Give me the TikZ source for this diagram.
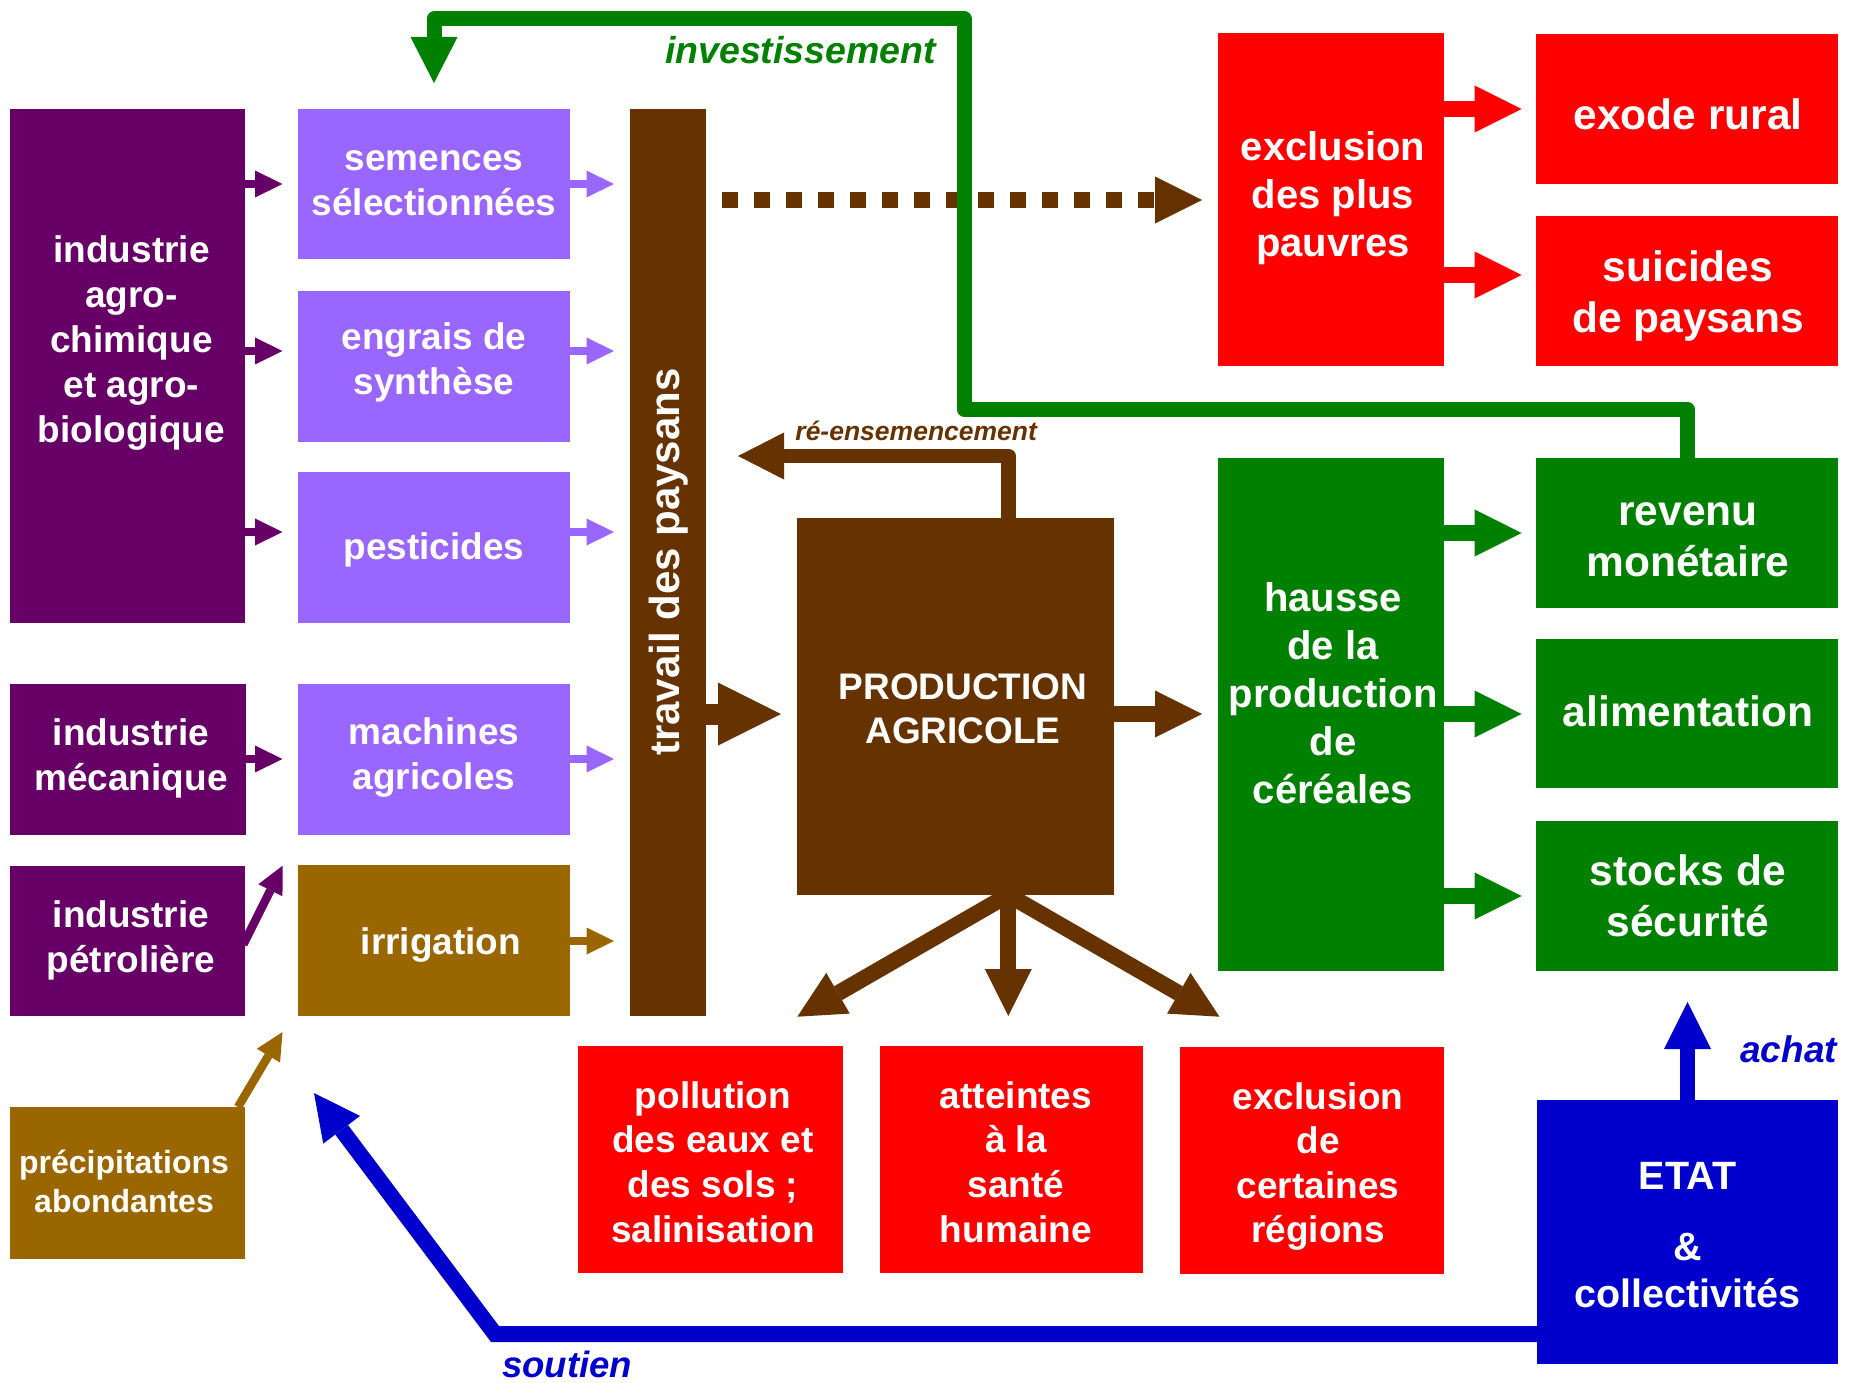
\documentclass[tikz,border=0pt]{standalone}
\usepackage{fontspec}
\setmainfont{Liberation Sans}
\usetikzlibrary{arrows.meta}
\definecolor{cDpur}{HTML}{660066}
\definecolor{cLpur}{HTML}{9966FF}
\definecolor{cBrown}{HTML}{663300}
\definecolor{cGold}{HTML}{996600}
\definecolor{cRed}{HTML}{FF0000}
\definecolor{cGreen}{HTML}{008000}
\definecolor{cBlue}{HTML}{0000CC}
\begin{document}
\begin{tikzpicture}[x=1pt,y=-1pt,
  box/.style={inner sep=0pt,outer sep=0pt,draw=none},
  txt/.style={text=white,align=center,inner sep=0pt,outer sep=0pt},
  fA/.style={font=\bfseries\fontsize{37}{45}\selectfont},
  fB/.style={font=\bfseries\fontsize{40}{48}\selectfont},
  fC/.style={font=\bfseries\fontsize{42.5}{51}\selectfont},
  lbl/.style={inner sep=0pt,outer sep=0pt,font=\bfseries\itshape\fontsize{37.5}{45}\selectfont},
  sarr/.style={line width=8.5pt,-{Triangle[length=27.5pt,width=27pt,line width=0pt]}},
  marr/.style={line width=16pt,-{Triangle[length=47pt,width=47pt,line width=0pt]}},
  larr/.style={line width=21pt,-{Triangle[length=63pt,width=63pt,line width=0pt]}},
]
\useasboundingbox (0,0) rectangle (1855,1383);

% ---------- boxes ----------
\node[box,fill=cDpur,minimum width=235pt,minimum height=514pt] (agro) at (127.5,366) {};
\node[box,fill=cDpur,minimum width=236pt,minimum height=151pt] (meca) at (128,759.5) {};
\node[box,fill=cDpur,minimum width=235pt,minimum height=150pt] (petro) at (127.5,941) {};
\node[box,fill=cGold,minimum width=235pt,minimum height=152pt] (prec) at (127.5,1183) {};

\node[box,fill=cLpur,minimum width=272pt,minimum height=150pt] (sem) at (434,184) {};
\node[box,fill=cLpur,minimum width=272pt,minimum height=151pt] (eng) at (434,366.5) {};
\node[box,fill=cLpur,minimum width=272pt,minimum height=151pt] (pest) at (434,547.5) {};
\node[box,fill=cLpur,minimum width=272pt,minimum height=151pt] (mach) at (434,759.5) {};
\node[box,fill=cGold,minimum width=272pt,minimum height=151pt] (irr) at (434,940.5) {};

\node[box,fill=cBrown,minimum width=76pt,minimum height=907pt] (trav) at (668,562.5) {};

\node[box,fill=cRed,minimum width=226pt,minimum height=333pt] (excl) at (1331,199.5) {};
\node[box,fill=cGreen,minimum width=226pt,minimum height=513pt] (haus) at (1331,714.5) {};

\node[box,fill=cRed,minimum width=302pt,minimum height=150pt] (exode) at (1687,109) {};
\node[box,fill=cRed,minimum width=302pt,minimum height=150pt] (suic) at (1687,291) {};
\node[box,fill=cGreen,minimum width=302pt,minimum height=150pt] (rev) at (1687,533) {};
\node[box,fill=cGreen,minimum width=302pt,minimum height=149pt] (alim) at (1687,713.5) {};
\node[box,fill=cGreen,minimum width=302pt,minimum height=150pt] (stock) at (1687,896) {};

\node[box,fill=cRed,minimum width=265pt,minimum height=227pt] (poll) at (710.5,1159.5) {};
\node[box,fill=cRed,minimum width=263pt,minimum height=227pt] (att) at (1011.5,1159.5) {};
\node[box,fill=cRed,minimum width=264pt,minimum height=227pt] (regs) at (1312,1160.5) {};

\node[box,fill=cBlue,minimum width=301pt,minimum height=264pt] (etat) at (1687.5,1232) {};

% ---------- coordinates ----------
\coordinate (petroTip) at (282.7,865.7);
\coordinate (precStart) at (238,1107);
\coordinate (precTip) at (282.5,1032);
\coordinate (fanO) at (1008.3,895);
\coordinate (fanL) at (797.3,1016.7);
\coordinate (fanD) at (1008.3,1016);
\coordinate (fanR) at (1219.5,1016.7);
\coordinate (soutC) at (495,1334);
\coordinate (soutTip) at (314,1093);
\coordinate (invA) at (964,409);
\coordinate (invB) at (964,19);
\coordinate (reA) at (1008.5,456);

% ---------- fan arrows (under production box) ----------
\draw[marr,cBrown,shorten <=-14pt] (fanO) -- (fanL);
\draw[marr,cBrown,shorten <=-14pt] (fanO) -- (fanD);
\draw[marr,cBrown,shorten <=-14pt] (fanO) -- (fanR);

\node[box,fill=cBrown,minimum width=317pt,minimum height=377pt] (prod) at (955.5,706.5) {};

% ---------- texts ----------
\node[txt,fA] (agroT) at (131.5,342.7) {industrie\\agro-\\chimique\\et agro-\\biologique};
\node[txt,fA] (mecaT) at (131,758.3) {industrie\\mécanique};
\node[txt,fA] (petroT) at (131,940.4) {industrie\\pétrolière};
\node[txt,font=\bfseries\fontsize{32}{39}\selectfont] (precT) at (124,1181) {précipitations\\abondantes};
\node[txt,fA] (semT) at (434,183.5) {semences\\sélectionnées};
\node[txt,fA] (engT) at (434,362) {engrais de\\synthèse};
\node[txt,fA] (pestT) at (434,550) {pesticides};
\node[txt,fA] (machT) at (434,757.1) {machines\\agricoles};
\node[txt,fA] (irrT) at (441,945) {irrigation};
\node[txt,rotate=90,font=\bfseries\fontsize{42}{50}\selectfont] (travT) at (669,562) {travail des paysans};
\node[txt,font=\bfseries\fontsize{37}{44}\selectfont] (prodT) at (963,709.2) {PRODUCTION\\AGRICOLE};
\node[txt,fB] (exclT) at (1333,198.5) {exclusion\\des plus\\pauvres};
\node[txt,fB] (hausT) at (1333,693.5) {hausse\\de la\\production\\de\\céréales};
\node[txt,fC] (exodeT) at (1688,114.7) {exode rural};
\node[txt,fC] (suicT) at (1688,296) {suicides\\de paysans};
\node[txt,fC] (revT) at (1688,539.5) {revenu\\monétaire};
\node[txt,fC] (alimT) at (1688,711) {alimentation};
\node[txt,fC] (stockT) at (1688,896) {stocks de\\sécurité};
\node[txt,font=\bfseries\fontsize{37}{44.6}\selectfont] (pollT) at (713,1162) {pollution\\des eaux et\\des sols ;\\salinisation};
\node[txt,font=\bfseries\fontsize{37}{44.6}\selectfont] (attT) at (1016,1162) {atteintes\\à la\\santé\\humaine};
\node[txt,font=\bfseries\fontsize{37}{44.6}\selectfont] (regsT) at (1318,1166.5) {exclusion\\de\\certaines\\régions};
\node[txt,font=\bfseries\fontsize{39.5}{47}\selectfont] (etatT) at (1687.5,1235) {ETAT\\[24pt]\&\\collectivités};

% ---------- small arrows ----------
\draw[sarr,cDpur,shorten >=15.5pt] (agro.east |- 0,184) -- (sem.west |- 0,184);
\draw[sarr,cDpur,shorten >=15.5pt] (agro.east |- 0,351) -- (eng.west |- 0,351);
\draw[sarr,cDpur,shorten >=15.5pt] (agro.east |- 0,532) -- (pest.west |- 0,532);
\draw[sarr,cDpur,shorten >=15.5pt] (meca.east |- 0,759) -- (mach.west |- 0,759);
\draw[sarr,cLpur,shorten >=16pt] (sem.east |- 0,184) -- (trav.west |- 0,184);
\draw[sarr,cLpur,shorten >=16pt] (eng.east |- 0,351) -- (trav.west |- 0,351);
\draw[sarr,cLpur,shorten >=16pt] (pest.east |- 0,532) -- (trav.west |- 0,532);
\draw[sarr,cLpur,shorten >=16pt] (mach.east |- 0,759) -- (trav.west |- 0,759);
\draw[sarr,cGold,shorten >=16pt] (irr.east |- 0,941) -- (trav.west |- 0,941);
\draw[sarr,cDpur,shorten <=-4pt] (petro.east) -- (petroTip);
\draw[sarr,cGold] (precStart) -- (precTip);

% ---------- medium / large arrows ----------
\draw[larr,cBrown,shorten >=16pt] (trav.east |- 0,714) -- (prod.west |- 0,714);
\draw[marr,cBrown,shorten >=16pt] (prod.east |- 0,714) -- (haus.west |- 0,714);
\draw[line width=16pt,cBrown,dash pattern=on 16pt off 16pt,dash phase=16pt,
      -{Triangle[length=47pt,width=47pt,line width=0pt]},shorten >=16pt]
      (trav.east |- 0,200) -- (excl.west |- 0,200);
\draw[marr,cRed,shorten >=14.5pt] (excl.east |- 0,109) -- (exode.west |- 0,109);
\draw[marr,cRed,shorten >=14.5pt] (excl.east |- 0,275) -- (suic.west |- 0,275);
\draw[marr,cGreen,shorten >=14.5pt] (haus.east |- 0,533) -- (rev.west |- 0,533);
\draw[marr,cGreen,shorten >=14.5pt] (haus.east |- 0,714) -- (alim.west |- 0,714);
\draw[marr,cGreen,shorten >=14.5pt] (haus.east |- 0,896) -- (stock.west |- 0,896);

% ---------- loops ----------
\draw[cBrown,line width=14.5pt,line join=round,
      -{Triangle[length=46pt,width=47pt,line width=0pt]},shorten >=32pt]
      (prod.north -| reA) -- (reA) -- (trav.east |- reA);
\draw[cGreen,line width=15pt,line join=round,
      -{Triangle[length=46pt,width=47pt,line width=0pt]},shorten >=26pt]
      (rev.north) -- (rev.north |- invA) -- (invA) -- (invB) -- (sem.north |- invB) -- (sem.north);
\draw[cBlue,line width=16pt,
      -{Triangle[length=46pt,width=46pt,line width=0pt]}]
      (etat.west |- soutC) -- (soutC) -- (soutTip);
\draw[cBlue,line width=15.5pt,
      -{Triangle[length=47pt,width=47pt,line width=0pt]},shorten >=31pt]
      (etat.north) -- (etat.north |- stock.south);

% ---------- labels ----------
\node[lbl,text=cGreen,anchor=base east] (invL) at (936,64) {investissement};
\node[lbl,text=cBrown,anchor=base east,font=\bfseries\itshape\fontsize{26.5}{32}\selectfont] (reL) at (1037,440) {ré-ensemencement};
\node[lbl,text=cBlue,anchor=base west,font=\bfseries\itshape\fontsize{36.6}{44}\selectfont] (soutL) at (502,1377) {soutien};
\node[lbl,text=cBlue,anchor=base east,font=\bfseries\itshape\fontsize{37}{44}\selectfont] (achL) at (1837,1062) {achat};
\end{tikzpicture}
\end{document}
